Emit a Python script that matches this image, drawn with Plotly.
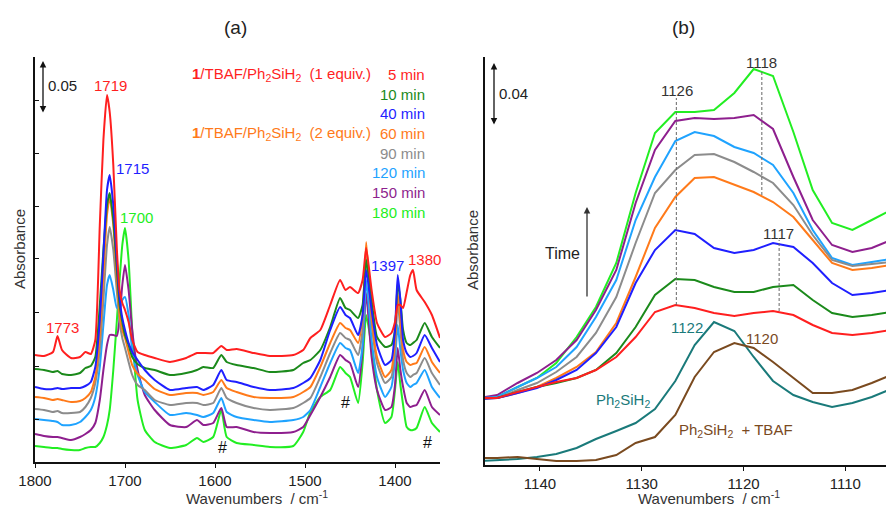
import plotly.graph_objects as go

W, H = 886, 506
FONT = "Liberation Sans, Arial, sans-serif"

# ---------------- panel (a) data: wavenumber grid and offset absorbance (arb. units) -------------
wn_a = [1800, 1790, 1780, 1775, 1770, 1760, 1750, 1744, 1738, 1733,
        1728, 1724, 1720, 1717, 1713, 1709, 1706, 1703, 1700, 1696,
        1692, 1686, 1678, 1667, 1650, 1632, 1620, 1613, 1602, 1593,
        1587, 1576, 1557, 1539, 1513, 1502, 1494, 1483, 1472, 1461,
        1455, 1450, 1441, 1436, 1432, 1426, 1420, 1411, 1404, 1400,
        1397, 1394, 1391, 1387, 1383, 1380, 1376, 1367, 1359, 1350]

a_5min = [107, 106, 110, 126, 112, 104, 105, 110, 108, 122,
          237, 322, 367, 350, 297, 212, 172, 159, 152, 140,
          122, 110, 107, 104, 100, 104, 109, 109, 109, 116,
          112, 113, 109, 106, 107, 112, 124, 132, 157, 182,
          172, 175, 169, 182, 214, 172, 139, 125, 129, 140,
          157, 157, 154, 170, 187, 192, 172, 160, 147, 124]
a_10min = [93, 92, 90, 91, 88, 87, 89, 94, 96, 105,
           157, 212, 257, 269, 242, 192, 157, 140, 127, 117,
           105, 98, 94, 92, 87, 89, 92, 95, 94, 107,
           100, 97, 94, 90, 92, 99, 102, 112, 135, 164,
           154, 152, 144, 157, 202, 162, 125, 115, 117, 132,
           179, 162, 132, 119, 117, 119, 122, 139, 125, 114]
a_40min = [75, 73, 73, 74, 73, 74, 74, 76, 80, 95,
           142, 207, 272, 287, 257, 200, 164, 144, 132, 119,
           110, 102, 92, 82, 72, 74, 75, 72, 77, 92,
           82, 80, 75, 72, 74, 79, 84, 102, 132, 155,
           147, 144, 127, 147, 192, 152, 117, 97, 102, 132,
           187, 162, 122, 109, 105, 106, 109, 127, 114, 100]
a_60min = [65, 64, 62, 63, 62, 60, 61, 64, 70, 85,
           127, 187, 247, 265, 237, 182, 147, 132, 124, 110,
           97, 88, 82, 73, 67, 69, 69, 67, 70, 82,
           74, 70, 65, 64, 65, 70, 75, 95, 119, 139,
           134, 132, 119, 147, 220, 145, 105, 85, 92, 122,
           169, 142, 112, 100, 97, 98, 99, 115, 100, 89]
a_90min = [53, 52, 50, 51, 49, 49, 50, 55, 64, 79,
           112, 162, 217, 235, 212, 170, 140, 124, 114, 100,
           87, 77, 72, 62, 57, 59, 59, 57, 59, 74,
           64, 59, 54, 52, 54, 59, 64, 85, 109, 129,
           124, 122, 107, 132, 207, 139, 99, 79, 85, 112,
           160, 132, 102, 89, 85, 87, 89, 104, 89, 77]
a_120min = [43, 42, 41, 40, 37, 37, 40, 45, 52, 65,
            95, 137, 177, 187, 172, 154, 155, 162, 165, 147,
            112, 87, 70, 60, 47, 49, 47, 45, 49, 64,
            50, 45, 42, 40, 42, 45, 52, 75, 99, 119,
            114, 112, 89, 117, 182, 122, 85, 65, 75, 102,
            137, 112, 92, 79, 75, 77, 79, 92, 75, 64]
a_150min = [28, 26, 25, 25, 24, 22, 25, 28, 32, 39,
            62, 92, 117, 127, 127, 126, 144, 177, 197, 172,
            132, 92, 67, 52, 37, 35, 42, 37, 39, 54,
            35, 35, 30, 29, 30, 35, 47, 65, 85, 107,
            102, 99, 75, 112, 169, 105, 72, 52, 55, 77,
            114, 92, 75, 59, 55, 56, 57, 72, 55, 47]
a_180min = [16, 15, 14, 14, 13, 12, 12, 14, 15, 15,
            19, 25, 37, 52, 92, 142, 182, 217, 234, 202,
            132, 62, 32, 20, 14, 17, 24, 20, 25, 52,
            25, 19, 17, 15, 16, 30, 50, 65, 72, 95,
            89, 85, 59, 99, 147, 115, 72, 39, 45, 72,
            100, 77, 57, 35, 32, 32, 34, 55, 39, 30]

# ---------------- panel (b) data ----------------
wn_b = [1146.1, 1144.2, 1142.2, 1140.3, 1138.4, 1136.4, 1134.5, 1132.5, 1130.6, 1128.7, 1126.7,
        1124.8, 1122.9, 1120.9, 1119.0, 1117.1, 1115.1, 1113.2, 1111.3, 1109.3, 1107.4, 1105.5]
b_5min = [67, 67, 73, 78, 83, 87, 95, 108, 128, 153, 160, 157, 152, 149, 152, 154, 150, 140, 132, 130, 132, 135]
b_10min = [67, 67, 73, 78, 82, 87, 95, 112, 138, 170, 186, 185, 178, 173, 173, 178, 180, 165, 152, 148, 150, 153]
b_40min = [66, 67, 72, 77, 85, 95, 112, 138, 182, 215, 235, 231, 217, 212, 215, 222, 218, 202, 182, 170, 172, 175]
b_60min = [66, 67, 72, 78, 87, 98, 113, 142, 188, 237, 268, 287, 288, 280, 273, 263, 248, 225, 202, 195, 197, 200]
b_90min = [67, 67, 75, 82, 93, 108, 132, 168, 222, 272, 295, 310, 311, 303, 293, 282, 260, 230, 205, 199, 201, 203]
b_120min = [67, 68, 78, 87, 98, 118, 148, 185, 245, 288, 324, 333, 329, 318, 312, 300, 272, 235, 207, 200, 203, 206]
b_150min = [67, 70, 82, 92, 105, 125, 155, 195, 262, 315, 344, 347, 346, 347, 350, 336, 288, 245, 220, 213, 217, 225]
b_180min = [67, 68, 78, 87, 102, 128, 158, 202, 272, 332, 353, 353, 355, 372, 396, 389, 333, 275, 242, 235, 245, 255]
b_ph2sih2 = [4, 5, 6, 8, 11, 17, 26, 34, 42, 56, 84, 120, 143, 134, 108, 84, 70, 63, 58, 62, 68, 76]
b_ph2sih2_tbaf = [7, 7, 8, 6, 4, 4, 5, 10, 22, 28, 50, 88, 113, 122, 117, 103, 87, 72, 72, 75, 82, 90]

times = ["5 min", "10 min", "40 min", "60 min", "90 min", "120 min", "150 min", "180 min"]
colors = ["#ff1f1f", "#1b8a1b", "#1f1fff", "#ff7a1a", "#8c8c8c", "#1fa3ff", "#8e1f8e", "#22ee22"]
a_series = [a_5min, a_10min, a_40min, a_60min, a_90min, a_120min, a_150min, a_180min]
b_series = [b_5min, b_10min, b_40min, b_60min, b_90min, b_120min, b_150min, b_180min]
draw_order = [7, 6, 5, 4, 3, 1, 2, 0]

left_ticks = [43, 96, 150, 204, 256, 309, 362]
a_xticks = [1800, 1700, 1600, 1500, 1400]
b_xticks = [1140, 1130, 1120, 1110]

fig = go.Figure()
for i in draw_order:
    fig.add_trace(go.Scatter(x=wn_a, y=a_series[i], mode="lines", name=times[i],
                             line=dict(color=colors[i], width=2, shape="spline", smoothing=0.5),
                             xaxis="x", yaxis="y", showlegend=False, hoverinfo="skip"))
fig.add_trace(go.Scatter(x=wn_b, y=b_ph2sih2, mode="lines", line=dict(color="#1a7a7a", width=2),
                         xaxis="x2", yaxis="y2", showlegend=False))
fig.add_trace(go.Scatter(x=wn_b, y=b_ph2sih2_tbaf, mode="lines", line=dict(color="#7a4a1f", width=2),
                         xaxis="x2", yaxis="y2", showlegend=False))
for i in draw_order:
    fig.add_trace(go.Scatter(x=wn_b, y=b_series[i], mode="lines", name=times[i],
                             line=dict(color=colors[i], width=2),
                             xaxis="x2", yaxis="y2", showlegend=False, hoverinfo="skip"))

ann = []


def txt(px, py, text, color="#222", size=15, xanchor="center", textangle=0):
    ann.append(dict(x=px / W, y=1 - py / H, xref="paper", yref="paper", text=text, showarrow=False,
                    font=dict(size=size, color=color, family=FONT), xanchor=xanchor, yanchor="middle",
                    textangle=textangle))


def vbar(px, py_top, py_bot, both=True, color="#111"):
    ann.append(dict(x=px / W, y=1 - py_top / H, xref="paper", yref="paper", ax=0, ay=py_bot - py_top,
                    text="", showarrow=True, arrowhead=2, startarrowhead=2,
                    arrowside="end+start" if both else "end", arrowsize=1, arrowwidth=1.3,
                    arrowcolor=color, standoff=0, startstandoff=0))


# titles
txt(235, 27, "(a)", size=19)
txt(683, 27, "(b)", size=19)
# axis titles
txt(257, 497, "Wavenumbers  / cm<sup>-1</sup>", size=15, color="#333")
txt(709, 497, "Wavenumbers  / cm<sup>-1</sup>", size=15, color="#333")
txt(19, 249, "Absorbance", size=15, color="#333", textangle=-90)
txt(472, 250, "Absorbance", size=15, color="#333", textangle=-90)

# legend-like texts in panel (a)
leg_y = [74, 94, 113, 133, 153, 172, 192, 212]
for t, c, y in zip(times, colors, leg_y):
    txt(427, y, t, color=c, xanchor="right")
comp1 = "<b>1</b>/TBAF/Ph<sub>2</sub>SiH<sub>2</sub>  (1 equiv.)"
comp2 = "<b>1</b>/TBAF/Ph<sub>2</sub>SiH<sub>2</sub>  (2 equiv.)"
txt(373, 74, comp1, color=colors[0], xanchor="right")
txt(373, 133, comp2, color=colors[3], xanchor="right")

# peak labels panel (a)
txt(110, 85, "1719", color=colors[0])
txt(132, 168, "1715", color=colors[2])
txt(136, 218, "1700", color=colors[7])
txt(62, 327, "1773", color=colors[0])
txt(387, 265, "1397", color=colors[2])
txt(424, 259, "1380", color=colors[0])
txt(222, 447, "#", color="#111", size=16)
txt(345, 402, "#", color="#111", size=16)
txt(427, 442, "#", color="#111", size=16)
txt(62, 85, "0.05", color="#222")
vbar(43, 61, 114)

# panel (b) labels
txt(513, 93, "0.04", color="#222")
vbar(494, 63, 126)
txt(677, 91, "1126", color="#333")
txt(761, 63, "1118", color="#333")
txt(778, 233, "1117", color="#333")
txt(562, 253, "Time", color="#222", size=16)
vbar(587, 207, 298, both=False, color="#333")
txt(687, 327, "1122", color="#1a7a7a")
txt(762, 338, "1120", color="#7a4a1f")
txt(623, 400, "Ph<sub>2</sub>SiH<sub>2</sub>", color="#1a7a7a")
txt(736, 430, "Ph<sub>2</sub>SiH<sub>2</sub>  + TBAF", color="#7a4a1f")

shapes = []
for xv, y0, y1 in [(1126.6, 160, 367), (1118.2, 270, 395), (1116.5, 154, 225)]:
    shapes.append(dict(type="line", xref="x2", yref="y2", x0=xv, x1=xv, y0=y0, y1=y1,
                       line=dict(color="#666", width=1, dash="3px,2px")))

axis_common = dict(showgrid=False, zeroline=False, showline=True, linecolor="#111", linewidth=2,
                   automargin=False, tickfont=dict(size=15, color="#222", family=FONT))
fig.update_layout(
    width=W, height=H, margin=dict(l=0, r=0, t=0, b=0, autoexpand=False),
    paper_bgcolor="white", plot_bgcolor="white",
    font=dict(family=FONT),
    xaxis=dict(domain=[35 / W, 440 / W], range=[1800, 1350], anchor="y", tickvals=a_xticks,
               ticks="outside", ticklen=4, tickcolor="#111", **axis_common),
    yaxis=dict(domain=[1 - 462 / H, 1 - 57 / H], range=[0, 405], anchor="x", tickvals=left_ticks,
               ticks="inside", ticklen=4, tickcolor="#111", showticklabels=False, **axis_common),
    xaxis2=dict(domain=[485 / W, 1.0], range=[1145.4, 1106.0], anchor="y2", tickvals=b_xticks,
                ticks="outside", ticklen=4, tickcolor="#111", **axis_common),
    yaxis2=dict(domain=[1 - 465 / H, 1 - 57 / H], range=[0, 408], anchor="x2", ticks="",
                showticklabels=False, **axis_common),
    annotations=ann, shapes=shapes,
)

fig.write_html("out.html")
